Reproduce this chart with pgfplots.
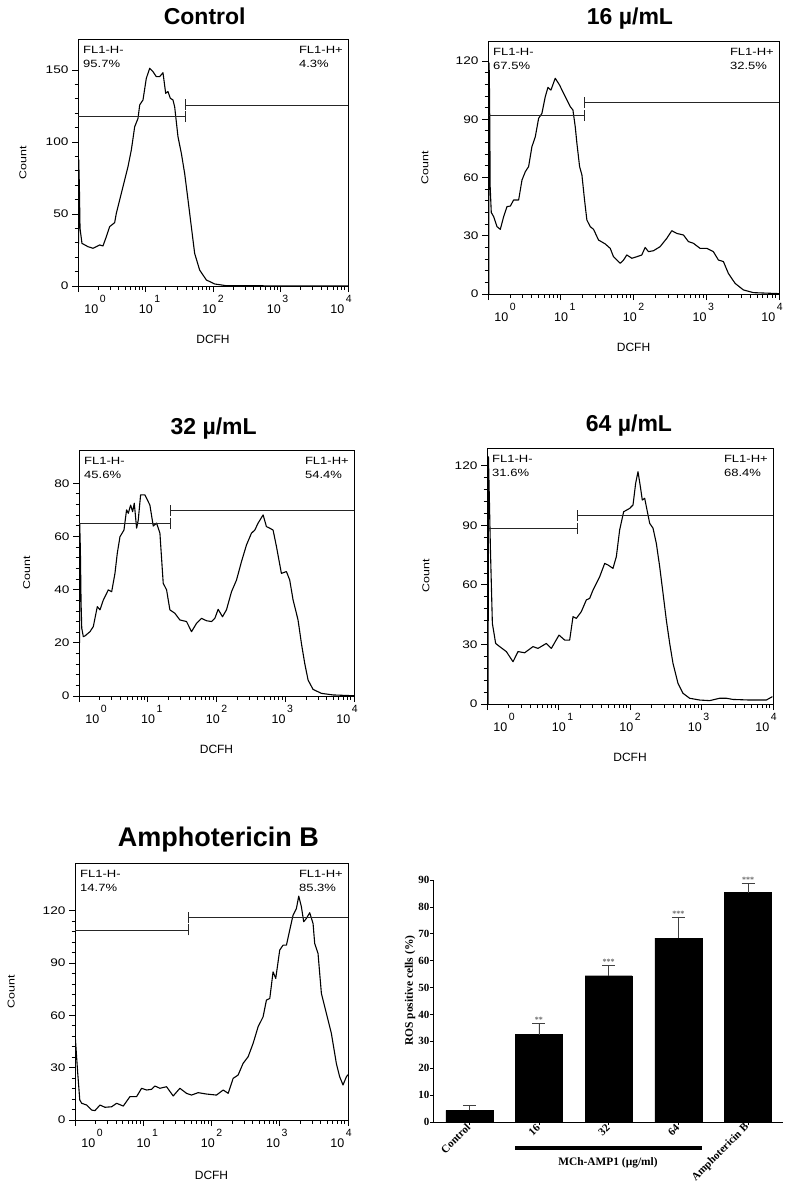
\documentclass[border=0pt]{standalone}
\usepackage{graphicx}
\usepackage{pgfplots}
\usepackage{pgfplotstable}
\pgfplotsset{compat=1.18}
\usepackage{fontspec}
\setmainfont{Liberation Sans}
\newfontfamily\tf{Liberation Serif}
\newcommand{\sx}[1]{\scalebox{1.24}[1]{#1}}
\newcommand{\dec}[1]{10\hspace{1.5pt}\raisebox{11pt}{\fontsize{10.5}{11}\selectfont #1}}

\pgfplotstableread{
x y e
0 4.3 2.0
1 32.5 4.2
2 54.4 3.9
3 68.4 7.6
4 85.3 3.5
}\bardata

\tikzset{
  curve/.style={black, line width=1.1pt, line join=round},
  gate/.style={black!85, line width=0.8pt},
  fl/.style={font=\fontsize{10.5}{14.4}\selectfont, align=left, inner sep=0pt},
}
\pgfplotsset{
  hist/.style={
    scale only axis, anchor=south west,
    xmin=0, xmax=4, ymin=0,
    axis line style={line width=0.9pt, black},
    tick align=outside, tick pos=left,
    xtick={0,1,2,3,4},
    minor xtick={0.301,0.477,0.602,0.699,0.778,0.845,0.903,0.954,1.301,1.477,1.602,1.699,1.778,1.845,1.903,1.954,2.301,2.477,2.602,2.699,2.778,2.845,2.903,2.954,3.301,3.477,3.602,3.699,3.778,3.845,3.903,3.954},
    minor y tick num=4,
    major tick length=6pt, minor tick length=3.5pt,
    every tick/.style={black, line width=0.8pt},
    xticklabels={\hspace*{34pt}\dec{0},\hspace*{8pt}\dec{1},\dec{2},\dec{3}\hspace*{6pt},\dec{4}\hspace*{14pt}},
    xticklabel style={font=\fontsize{12.5}{13}\selectfont, anchor=north},
    yticklabel={\sx{\pgfmathprintnumber{\tick}}},
    yticklabel style={font=\fontsize{11}{12}\selectfont},
    /pgf/number format/assume math mode=true,
  },
}

\begin{document}
\begin{tikzpicture}
\useasboundingbox (0pt,0pt) rectangle (794pt,-1190pt);

% ---------------- Control ----------------
\begin{axis}[hist, at={(78pt,-286pt)}, width=270pt, height=247pt, ymax=171.5, ytick={0,50,100,150}]
\addplot[curve] coordinates {(0.005,0)(0.01,88)(0.02,70)(0.03,40)(0.059,29.6)(0.148,27.3)(0.222,26.2)(0.272,27.3)(0.321,28.5)(0.37,27.8)(0.42,34.3)(0.469,41.2)(0.543,44)(0.568,50.5)(0.617,59.7)(0.691,73.6)(0.741,82.9)(0.79,94.4)(0.84,110.6)(0.889,116.4)(0.914,125.7)(0.963,129.2)(1.012,144.2)(1.062,151.2)(1.111,148.8)(1.16,145.4)(1.21,145.4)(1.259,148.1)(1.299,133.8)(1.333,135)(1.368,130.3)(1.407,129.2)(1.432,124.5)(1.481,103.7)(1.531,92.1)(1.58,78.2)(1.63,59.7)(1.679,41.2)(1.728,22.7)(1.802,11.1)(1.901,4.2)(2.025,1.4)(2.2,0.2)(4,0)};
\addplot[gate] coordinates {(0,117.6)(1.585,117.6)};
\addplot[gate] coordinates {(1.585,125.7)(4,125.7)};
\draw[gate] (axis cs:1.585,117.6) ++(0,-5.5pt) -- ++(0,11pt);
\draw[gate] (axis cs:1.585,125.7) ++(0,-5.5pt) -- ++(0,11pt);
\node[fl, anchor=north west, xshift=5pt, yshift=-6.7pt] at (rel axis cs:0,1) {\sx{FL1-H-}\\\sx{95.7\%}};
\node[fl, anchor=north east, xshift=-5pt, yshift=-6.7pt] at (rel axis cs:1,1) {\sx{FL1-H+}\\\sx{4.3\%}};
\end{axis}

% ---------------- 16 ----------------
\begin{axis}[hist, at={(488pt,-294pt)}, width=291pt, height=253pt, ymax=130.3, ytick={0,30,60,90,120}]
\addplot[curve] coordinates {(0.01,0)(0.015,119)(0.022,100)(0.03,55)(0.045,42)(0.078,39.8)(0.124,34.7)(0.169,33.3)(0.215,39.8)(0.261,45)(0.307,45.3)(0.352,48.4)(0.421,48.4)(0.467,58.7)(0.513,63)(0.558,65.6)(0.604,75.9)(0.65,81)(0.696,90.5)(0.741,93)(0.787,101.6)(0.824,106.4)(0.865,105)(0.924,111.1)(0.984,107.6)(1.039,103.3)(1.085,99.9)(1.13,96.5)(1.167,94.8)(1.199,86.2)(1.222,77.6)(1.259,65.6)(1.291,61.3)(1.327,48.4)(1.359,38.1)(1.405,34.7)(1.451,33.3)(1.519,27.8)(1.611,25.8)(1.68,23.5)(1.725,19.2)(1.817,15.8)(1.863,17.5)(1.908,20.1)(1.977,18.4)(2.046,19.2)(2.114,20.1)(2.16,24)(2.206,21.8)(2.275,22.3)(2.366,24.4)(2.458,28.7)(2.526,32.6)(2.595,31.2)(2.686,30.4)(2.755,27)(2.824,26.1)(2.915,23.5)(3.007,23.5)(3.098,21.8)(3.167,17.5)(3.236,16.7)(3.304,10.6)(3.396,5.5)(3.51,2.1)(3.648,0.7)(4,0.2)};
\addplot[gate] coordinates {(0.02,91.9)(1.324,91.9)};
\addplot[gate] coordinates {(1.324,98.6)(4,98.6)};
\draw[gate] (axis cs:1.324,91.9) ++(0,-5.5pt) -- ++(0,11pt);
\draw[gate] (axis cs:1.324,98.6) ++(0,-5.5pt) -- ++(0,11pt);
\node[fl, anchor=north west, xshift=5pt, yshift=-6.7pt] at (rel axis cs:0,1) {\sx{FL1-H-}\\\sx{67.5\%}};
\node[fl, anchor=north east, xshift=-5pt, yshift=-6.7pt] at (rel axis cs:1,1) {\sx{FL1-H+}\\\sx{32.5\%}};
\end{axis}

% ---------------- 32 ----------------
\begin{axis}[hist, at={(79pt,-696pt)}, width=275pt, height=246pt, ymax=92.5, ytick={0,20,40,60,80}]
\addplot[curve] coordinates {(0.005,0)(0.01,65)(0.02,55)(0.03,35)(0.04,25.5)(0.063,22.3)(0.087,22.6)(0.16,24.2)(0.208,26.1)(0.266,33.6)(0.305,32.4)(0.354,36.1)(0.426,39.9)(0.475,39.2)(0.523,46.1)(0.557,53.7)(0.596,59.9)(0.654,62.4)(0.692,70)(0.717,68.7)(0.751,71.8)(0.78,69.3)(0.804,72.5)(0.838,63.1)(0.862,66.2)(0.896,75.6)(0.959,75.6)(1.031,71.8)(1.08,63.9)(1.128,65)(1.177,61.2)(1.225,42.4)(1.274,39.9)(1.322,32.4)(1.395,31.1)(1.467,28.6)(1.564,28)(1.637,24.2)(1.709,27.3)(1.782,29.2)(1.855,28.3)(1.927,28)(1.976,29.2)(2.024,32.6)(2.087,29.8)(2.145,32.4)(2.218,39.2)(2.291,43.6)(2.363,50.5)(2.436,56.8)(2.508,61.2)(2.557,62.4)(2.605,65)(2.678,68.1)(2.726,63.7)(2.775,63.1)(2.823,62.4)(2.872,56.2)(2.944,46.1)(3.017,46.8)(3.065,43.6)(3.114,36.1)(3.186,28.6)(3.235,19.8)(3.283,12.3)(3.332,6)(3.404,2.5)(3.525,1)(3.695,0.4)(4,0.1)};
\addplot[gate] coordinates {(0,64.9)(1.334,64.9)};
\addplot[gate] coordinates {(1.334,69.8)(4,69.8)};
\draw[gate] (axis cs:1.334,64.9) ++(0,-5.5pt) -- ++(0,11pt);
\draw[gate] (axis cs:1.334,69.8) ++(0,-5.5pt) -- ++(0,11pt);
\node[fl, anchor=north west, xshift=5pt, yshift=-6.7pt] at (rel axis cs:0,1) {\sx{FL1-H-}\\\sx{45.6\%}};
\node[fl, anchor=north east, xshift=-5pt, yshift=-6.7pt] at (rel axis cs:1,1) {\sx{FL1-H+}\\\sx{54.4\%}};
\end{axis}

% ---------------- 64 ----------------
\begin{axis}[hist, at={(487pt,-704pt)}, width=286pt, height=256pt, ymax=128.9, ytick={0,30,60,90,120}]
\addplot[curve] coordinates {(0.015,0)(0.02,124.5)(0.035,100)(0.047,79.2)(0.075,40.6)(0.121,30.5)(0.177,28.9)(0.27,26.4)(0.364,21.3)(0.434,26.4)(0.527,25.8)(0.643,28.9)(0.713,28)(0.83,30.5)(0.9,28)(1.007,34.7)(1.086,32.2)(1.156,32.2)(1.203,44)(1.249,43.1)(1.319,46.5)(1.389,52.4)(1.436,53.2)(1.483,57.4)(1.576,64.1)(1.646,70.8)(1.692,70)(1.762,68.3)(1.809,74.2)(1.855,87.6)(1.911,96.8)(1.995,98.5)(2.042,100.2)(2.079,111.1)(2.112,117)(2.145,109.4)(2.172,102.7)(2.205,103.6)(2.238,97.7)(2.275,91)(2.322,88.5)(2.368,80.9)(2.415,69.2)(2.462,55.7)(2.508,42.3)(2.555,30.5)(2.601,20.5)(2.671,10.4)(2.741,5.4)(2.834,2.9)(2.974,2)(3.114,1.7)(3.254,2.9)(3.347,2.9)(3.44,2.3)(3.674,2)(3.907,2)(3.991,3.7)};
\addplot[gate] coordinates {(0.03,88.3)(1.268,88.3)};
\addplot[gate] coordinates {(1.268,95.0)(4,95.0)};
\draw[gate] (axis cs:1.268,88.3) ++(0,-5.5pt) -- ++(0,11pt);
\draw[gate] (axis cs:1.268,95.0) ++(0,-5.5pt) -- ++(0,11pt);
\node[fl, anchor=north west, xshift=5pt, yshift=-6.7pt] at (rel axis cs:0,1) {\sx{FL1-H-}\\\sx{31.6\%}};
\node[fl, anchor=north east, xshift=-5pt, yshift=-6.7pt] at (rel axis cs:1,1) {\sx{FL1-H+}\\\sx{68.4\%}};
\end{axis}

% ---------------- Amphotericin B ----------------
\begin{axis}[hist, at={(75pt,-1120pt)}, width=273pt, height=257pt, ymax=147.4, ytick={0,30,60,90,120}]
\addplot[curve] coordinates {(0.005,47)(0.02,38.2)(0.04,26.8)(0.07,11.5)(0.098,9.6)(0.171,8.6)(0.244,5.7)(0.293,5.4)(0.366,8.6)(0.439,7.3)(0.537,7.6)(0.61,9.6)(0.707,8)(0.805,13.4)(0.902,13.4)(0.976,18.2)(1.049,17.2)(1.122,17.6)(1.171,19.5)(1.244,18.2)(1.341,19.1)(1.439,13.8)(1.537,18.2)(1.634,15.3)(1.707,14.3)(1.805,15.7)(1.927,14.9)(2.073,14.3)(2.171,17.2)(2.244,15.3)(2.317,23.9)(2.39,25.8)(2.463,32.5)(2.537,36.3)(2.61,44)(2.683,53.5)(2.756,59.2)(2.805,68.8)(2.854,69.7)(2.902,85)(2.941,81.2)(3,97.5)(3.049,100.3)(3.098,100.3)(3.146,108.9)(3.195,117.5)(3.244,121.3)(3.278,128.4)(3.317,122.3)(3.351,113.7)(3.39,115.6)(3.439,118.9)(3.488,112.7)(3.512,101.3)(3.561,95.5)(3.61,72.6)(3.683,61.2)(3.756,49.7)(3.829,32.5)(3.878,24.8)(3.927,20.1)(3.976,24.8)(4,26)};
\addplot[gate] coordinates {(0,109)(1.66,109)};
\addplot[gate] coordinates {(1.66,116)(4,116)};
\draw[gate] (axis cs:1.66,109) ++(0,-5.5pt) -- ++(0,11pt);
\draw[gate] (axis cs:1.66,116) ++(0,-5.5pt) -- ++(0,11pt);
\node[fl, anchor=north west, xshift=5pt, yshift=-6.7pt] at (rel axis cs:0,1) {\sx{FL1-H-}\\\sx{14.7\%}};
\node[fl, anchor=north east, xshift=-5pt, yshift=-6.7pt] at (rel axis cs:1,1) {\sx{FL1-H+}\\\sx{85.3\%}};
\end{axis}

% ---------------- Bar chart ----------------
\begin{axis}[
  scale only axis, anchor=south west, at={(433pt,-1122pt)},
  width=350pt, height=242pt,
  xmin=-0.52, xmax=4.5, ymin=0, ymax=90, clip=false,
  axis x line*=bottom, axis y line*=left,
  axis line style={line width=0.9pt, black},
  tick align=outside, major tick length=3pt,
  every tick/.style={black, line width=0.8pt},
  xtick={0,1,2,3,4}, xticklabels={Control,16,32,64,Amphotericin B},
  ytick={0,10,...,90},
  xticklabel style={font=\tf\bfseries\fontsize{11}{12}\selectfont, rotate=45, anchor=east, inner sep=1pt},
  yticklabel style={font=\tf\bfseries\fontsize{11}{12}\selectfont, inner sep=0.5pt},
  /pgf/number format/assume math mode=true,
  ybar, bar width=47pt,
]
\addplot[fill=black, draw=black,
  error bars/.cd, y dir=plus, y explicit,
  error bar style={line width=0.7pt, black!75},
  error mark options={rotate=90, mark size=6.5pt, line width=0.7pt, black!75}]
  table[x=x, y=y, y error=e] \bardata;
\node[anchor=south, font=\tf\bfseries\fontsize{8}{8}\selectfont, text=black!60, inner sep=1pt] at (axis cs:1,36.7) {**};
\node[anchor=south, font=\tf\bfseries\fontsize{8}{8}\selectfont, text=black!60, inner sep=1pt] at (axis cs:2,58.3) {***};
\node[anchor=south, font=\tf\bfseries\fontsize{8}{8}\selectfont, text=black!60, inner sep=1pt] at (axis cs:3,76.0) {***};
\node[anchor=south, font=\tf\bfseries\fontsize{8}{8}\selectfont, text=black!60, inner sep=1pt] at (axis cs:4,88.8) {***};
\end{axis}

% ---------------- outer texts ----------------
\node[anchor=base, font=\bfseries\fontsize{23}{27}\selectfont] at (204.7pt,-25pt) {Control};
\node[anchor=base, font=\bfseries\fontsize{23}{27}\selectfont] at (630pt,-25pt) {16 µ/mL};
\node[anchor=base, font=\bfseries\fontsize{23}{27}\selectfont] at (213.7pt,-434pt) {32 µ/mL};
\node[anchor=base, font=\bfseries\fontsize{23}{27}\selectfont] at (629pt,-431.7pt) {64 µ/mL};
\node[anchor=base, font=\bfseries\fontsize{27}{31}\selectfont] at (218.3pt,-846.7pt) {Amphotericin B};

\node[rotate=90, font=\fontsize{10}{12}\selectfont] at (23pt,-162.5pt) {\sx{Count}};
\node[rotate=90, font=\fontsize{10}{12}\selectfont] at (425pt,-167.5pt) {\sx{Count}};
\node[rotate=90, font=\fontsize{10}{12}\selectfont] at (26.7pt,-573pt) {\sx{Count}};
\node[rotate=90, font=\fontsize{10}{12}\selectfont] at (426pt,-576pt) {\sx{Count}};
\node[rotate=90, font=\fontsize{10}{12}\selectfont] at (11.3pt,-991.5pt) {\sx{Count}};

\node[anchor=base, font=\fontsize{12}{14}\selectfont] at (213pt,-343pt) {DCFH};
\node[anchor=base, font=\fontsize{12}{14}\selectfont] at (633.5pt,-351pt) {DCFH};
\node[anchor=base, font=\fontsize{12}{14}\selectfont] at (216.5pt,-753pt) {DCFH};
\node[anchor=base, font=\fontsize{12}{14}\selectfont] at (630pt,-761pt) {DCFH};
\node[anchor=base, font=\fontsize{12}{14}\selectfont] at (211.5pt,-1179pt) {DCFH};

\draw[line width=4pt] (515pt,-1148.3pt) -- (701.7pt,-1148.3pt);
\node[anchor=base, font=\tf\bfseries\fontsize{11.4}{13}\selectfont] at (608pt,-1165pt) {MCh-AMP1 (µg/ml)};
\node[rotate=90, font=\tf\bfseries\fontsize{11.5}{13}\selectfont] at (410pt,-990.7pt) {ROS positive cells (\%)};
\end{tikzpicture}
\end{document}
